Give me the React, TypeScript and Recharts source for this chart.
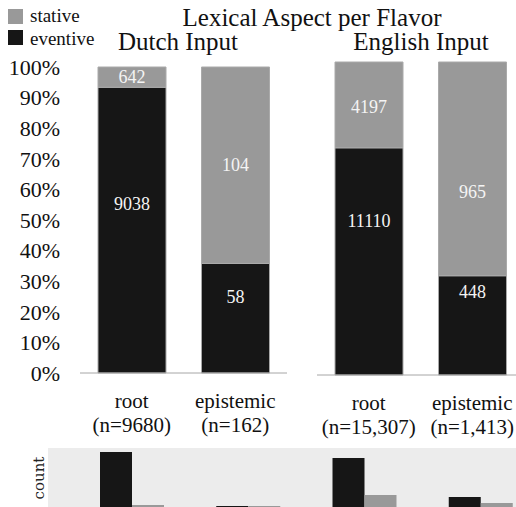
import { BarChart, Bar, XAxis, YAxis, LabelList } from 'recharts'

const flavors = ['root', 'epistemic']
const dutchN = ['(n=9680)', '(n=162)']
const englishN = ['(n=15,307)', '(n=1,413)']
const dutchEventive = [9038, 58]
const dutchStative = [642, 104]
const englishEventive = [11110, 448]
const englishStative = [4197, 965]
const pctTicks = [0, 10, 20, 30, 40, 50, 60, 70, 80, 90, 100]

const countGroups = ['Dutch root', 'Dutch epistemic', 'English root', 'English epistemic']
const countEventive = [55, 1, 49, 10]
const countStative = [2, 1, 12, 4]

const BLACK = '#161616'
const GREY = '#999999'
const SERIF = 'Liberation Serif, DejaVu Serif, serif'

function toRows(ev: number[], st: number[], ns: string[]) {
  return flavors.map((f, i) => ({
    flavor: f,
    n: ns[i],
    eventive: (ev[i] / (ev[i] + st[i])) * 100,
    stative: (st[i] / (ev[i] + st[i])) * 100,
    evCount: ev[i],
    stCount: st[i],
  }))
}

const dutchRows = toRows(dutchEventive, dutchStative, dutchN)
const englishRows = toRows(englishEventive, englishStative, englishN)
const countRows = countGroups.map((g, i) => ({ group: g, eventive: countEventive[i], stative: countStative[i] }))

// where the number sits inside its segment, as a share of the segment from the top
const makeLabel = (fracs: number[]) => (props: any) => {
  const { x, y, width, height, value, index } = props
  const f = fracs[index ?? 0] ?? 0.5
  return (
    <text
      x={Number(x) + Number(width) / 2}
      y={Number(y) + Number(height) * f}
      fill="#f4f4f4"
      textAnchor="middle"
      dominantBaseline="central"
      fontSize={18}
      fontFamily={SERIF}
    >
      {value}
    </text>
  )
}

const makeTick = (rows: { flavor: string; n: string }[]) => (props: any) => {
  const { x, y, index } = props
  const row = rows[index] ?? rows[0]
  return (
    <text x={x} y={y} textAnchor="middle" fill="#111" fontSize={21} fontFamily={SERIF}>
      <tspan x={x} dy={27}>{row.flavor}</tspan>
      <tspan x={x} dy={24}>{row.n}</tspan>
    </text>
  )
}

function PctChart({ rows, width, height, top, bottom, showY, evFracs, stFracs }: any) {
  return (
    <BarChart width={width} height={height} data={rows} margin={{ top, right: 3, bottom: 0, left: 0 }} barSize={68}>
      <XAxis
        dataKey="flavor"
        tick={makeTick(rows)}
        tickLine={false}
        axisLine={{ stroke: '#a6a6a6' }}
        height={bottom}
        interval={0}
      />
      <YAxis
        hide={!showY}
        domain={[0, 100]}
        ticks={pctTicks}
        interval={0}
        tickFormatter={(v: number) => `${v}%`}
        tick={{ fontSize: 22, fill: '#111', fontFamily: SERIF }}
        axisLine={false}
        tickLine={false}
        tickMargin={14}
        width={80}
      />
      <Bar dataKey="eventive" stackId="a" fill={BLACK} stroke="#a8a8a8" strokeWidth={1} isAnimationActive={false}>
        <LabelList dataKey="evCount" content={makeLabel(evFracs)} />
      </Bar>
      <Bar dataKey="stative" stackId="a" fill={GREY} stroke="#aaaaaa" strokeWidth={1} isAnimationActive={false}>
        <LabelList dataKey="stCount" content={makeLabel(stFracs)} />
      </Bar>
    </BarChart>
  )
}

export default function App() {
  return (
    <div style={{ position: 'fixed', left: 0, top: 0, width: 516, height: 507, overflow: 'hidden', background: '#fff' }}>
      <div style={{ position: 'absolute', left: 0, top: 0 }}>
        <PctChart rows={dutchRows} width={290} height={440} top={67} bottom={67} showY evFracs={[0.41, 0.31]} stFracs={[0.5, 0.5]} />
      </div>
      <div style={{ position: 'absolute', left: 317, top: 0 }}>
        <PctChart rows={englishRows} width={210} height={440} top={62} bottom={65} showY={false} evFracs={[0.32, 0.16]} stFracs={[0.53, 0.61]} />
      </div>

      <div style={{ position: 'absolute', left: 48, top: 448, width: 468, height: 59, background: '#ececec' }} />
      <div style={{ position: 'absolute', left: 74, top: 448 }}>
        <BarChart width={465} height={59} data={countRows} margin={{ top: 0, right: 0, bottom: 0, left: 0 }} barSize={32} barGap={0}>
          <XAxis dataKey="group" hide />
          <YAxis hide domain={[0, 59]} />
          <Bar dataKey="eventive" fill={BLACK} isAnimationActive={false} />
          <Bar dataKey="stative" fill={GREY} isAnimationActive={false} />
        </BarChart>
      </div>

      <svg width={516} height={507} style={{ position: 'absolute', left: 0, top: 0, pointerEvents: 'none' }}>
        <rect x={8} y={9} width={15} height={15} fill={GREY} />
        <rect x={8} y={30} width={15} height={15} fill={BLACK} />
        <text x={30} y={22} fontSize={19} fontFamily={SERIF} fill="#111">stative</text>
        <text x={30} y={45} fontSize={19} fontFamily={SERIF} fill="#111">eventive</text>
        <text x={312} y={26} textAnchor="middle" fontSize={25} fontFamily={SERIF} fill="#111">Lexical Aspect per Flavor</text>
        <text x={178} y={50} textAnchor="middle" fontSize={25} fontFamily={SERIF} fill="#111">Dutch Input</text>
        <text x={421} y={50} textAnchor="middle" fontSize={25} fontFamily={SERIF} fill="#111">English Input</text>
        <text
          x={0}
          y={0}
          transform="translate(44 478) rotate(-90)"
          textAnchor="middle"
          fontSize={15}
          fontFamily="DejaVu Serif, serif"
          fill="#222"
        >
          count
        </text>
      </svg>
    </div>
  )
}
